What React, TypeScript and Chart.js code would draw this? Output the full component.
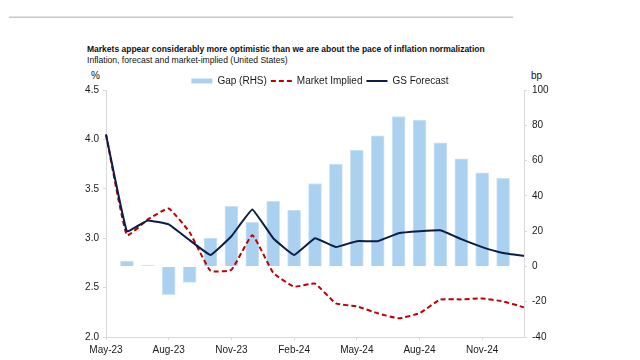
import React, { useEffect, useRef } from 'react';
import { Chart, registerables } from 'chart.js';

Chart.register(...registerables);

const FONT = "'Liberation Sans', Arial, sans-serif";

const months = [
  'May-23', 'Jun-23', 'Jul-23', 'Aug-23', 'Sep-23', 'Oct-23', 'Nov-23', 'Dec-23',
  'Jan-24', 'Feb-24', 'Mar-24', 'Apr-24', 'May-24', 'Jun-24', 'Jul-24', 'Aug-24',
  'Sep-24', 'Oct-24', 'Nov-24', 'Dec-24', 'Jan-25',
];

const shownTickLabels = ['May-23', 'Aug-23', 'Nov-23', 'Feb-24', 'May-24', 'Aug-24', 'Nov-24'];

// Gap between GS forecast and market-implied, bp (right axis)
const gapBp = [null, 3, 0.5, -16, -9, 16, 34, 25, 37, 32, 47, 58, 66, 74, 85, 83, 70, 61, 53, 50, null];

// Market-implied inflation, % (left axis)
const marketImplied = [4.05, 3.03, 3.19, 3.3, 3.06, 2.67, 2.68, 3.03, 2.65, 2.51, 2.54, 2.34, 2.31, 2.24, 2.19, 2.24, 2.38, 2.38, 2.39, 2.36, 2.3];

// GS forecast inflation, % (left axis)
const gsForecast = [4.05, 3.07, 3.18, 3.14, 2.98, 2.83, 3.02, 3.29, 3.0, 2.83, 3.0, 2.91, 2.97, 2.97, 3.05, 3.07, 3.08, 2.99, 2.91, 2.85, 2.82];

const leftTicks = { min: 2.0, max: 4.5, step: 0.5 };
const rightTicks = { min: -40, max: 100, step: 20 };

const TITLE = 'Markets appear considerably more optimistic than we are about the pace of inflation normalization';
const SUBTITLE = 'Inflation, forecast and market-implied (United States)';

export default function App() {
  const canvasRef = useRef<HTMLCanvasElement>(null);

  useEffect(() => {
    const canvas = canvasRef.current;
    if (!canvas) return;
    const axisColor = '#d9d9d9';
    const textColor = '#1a1a1a';
    const chart = new Chart(canvas, {
      type: 'bar',
      data: {
        labels: months,
        datasets: [
          {
            type: 'bar',
            label: 'Gap (RHS)',
            data: gapBp as any,
            yAxisID: 'y1',
            backgroundColor: '#abd1f0',
            borderColor: '#cde4f7',
            borderWidth: 1,
            barThickness: 13,
            order: 3,
          } as any,
          {
            type: 'line',
            label: 'Market Implied',
            data: marketImplied,
            yAxisID: 'y',
            borderColor: '#c00000',
            backgroundColor: '#c00000',
            borderDash: [5, 3],
            borderWidth: 2,
            pointRadius: 0,
            tension: 0.12,
            order: 2,
          } as any,
          {
            type: 'line',
            label: 'GS Forecast',
            data: gsForecast,
            yAxisID: 'y',
            borderColor: '#0c1e45',
            backgroundColor: '#0c1e45',
            borderWidth: 2,
            pointRadius: 0,
            tension: 0.08,
            order: 1,
          } as any,
        ],
      },
      options: {
        responsive: false,
        animation: false,
        layout: { padding: { top: 72, left: 0, right: 0, bottom: 0 } },
        font: { family: FONT },
        plugins: {
          tooltip: { enabled: false },
          legend: {
            position: 'top',
            maxHeight: 18,
            labels: {
              color: textColor,
              font: { family: FONT, size: 10 },
              padding: 4,
              usePointStyle: true,
              pointStyleWidth: 21,
              boxWidth: 21,
              boxHeight: 5,
              sort: (a: any, b: any) => a.datasetIndex - b.datasetIndex,
              generateLabels: (ch: any) => {
                const items = (Chart.defaults.plugins.legend.labels as any).generateLabels(ch);
                return items.map((it: any) => {
                  const ds = ch.data.datasets[it.datasetIndex];
                  if (it.datasetIndex === 0) {
                    return { ...it, pointStyle: 'rect', lineWidth: 0, fillStyle: ds.backgroundColor };
                  }
                  return { ...it, pointStyle: 'line', lineWidth: 2, strokeStyle: ds.borderColor, lineDash: ds.borderDash || [] };
                });
              },
            },
          },
        } as any,
        scales: {
          x: {
            type: 'category',
            offset: false,
            afterFit: (s: any) => { s.height = 23; },
            grid: {
              display: true,
              drawOnChartArea: false,
              offset: false,
              tickLength: 3,
              color: (ctx: any) => (shownTickLabels.includes(months[ctx.index]) ? axisColor : 'rgba(0,0,0,0)'),
            },
            border: { display: true, color: axisColor, width: 1 },
            ticks: {
              autoSkip: false,
              maxRotation: 0,
              padding: 4,
              color: textColor,
              font: { family: FONT, size: 10 },
              callback: (_v: any, i: number) => (shownTickLabels.includes(months[i]) ? months[i] : ''),
            },
          },
          y: {
            type: 'linear',
            position: 'left',
            min: leftTicks.min,
            max: leftTicks.max,
            afterFit: (s: any) => { s.width = 106; },
            grid: { display: true, drawOnChartArea: false, tickLength: 3, color: axisColor },
            border: { display: true, color: axisColor, width: 1 },
            ticks: {
              stepSize: leftTicks.step,
              padding: 4,
              color: textColor,
              font: { family: FONT, size: 10 },
              callback: (v: any) => Number(v).toFixed(1),
            },
          },
          y1: {
            type: 'linear',
            position: 'right',
            min: rightTicks.min,
            max: rightTicks.max,
            afterFit: (s: any) => { s.width = 116; },
            grid: { display: true, drawOnChartArea: false, tickLength: 3, color: axisColor },
            border: { display: true, color: axisColor, width: 1 },
            ticks: {
              stepSize: rightTicks.step,
              padding: 5,
              color: textColor,
              font: { family: FONT, size: 10 },
            },
          },
        } as any,
      },
    });
    return () => chart.destroy();
  }, []);

  const abs = (extra: React.CSSProperties): React.CSSProperties => ({
    position: 'absolute',
    whiteSpace: 'nowrap',
    fontFamily: FONT,
    color: '#111',
    ...extra,
  });

  return (
    <div style={{ position: 'absolute', left: 0, top: 0, width: 640, height: 360, background: '#fff', overflow: 'hidden' }}>
      <div style={{ position: 'absolute', left: 9, top: 16, width: 504, height: 0, borderTop: '1px solid #e2e2e2', borderBottom: '1px solid #c9c9c9' }} />
      <div style={abs({ left: 87, top: 44, fontSize: 8.5, fontWeight: 'bold', lineHeight: '10px' })}>{TITLE}</div>
      <div style={abs({ left: 87, top: 54.5, fontSize: 8.6, lineHeight: '10px' })}>{SUBTITLE}</div>
      <div style={abs({ left: 91, top: 70, fontSize: 10, lineHeight: '12px' })}>%</div>
      <div style={abs({ left: 531, top: 70, fontSize: 10, lineHeight: '12px' })}>bp</div>
      <canvas ref={canvasRef} width={640} height={360} style={{ position: 'absolute', left: 0, top: 0, width: 640, height: 360 }} />
    </div>
  );
}
